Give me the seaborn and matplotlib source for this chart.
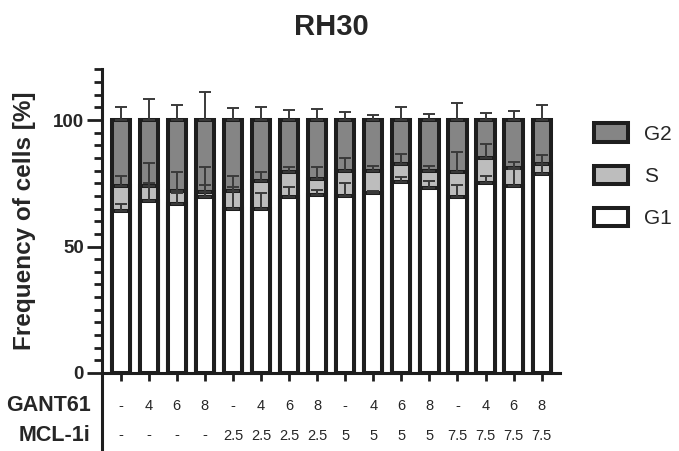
import numpy as np
import pandas as pd
import seaborn as sns
import matplotlib.pyplot as plt
import matplotlib.transforms as mtransforms
from matplotlib.patches import Patch
from matplotlib.ticker import MultipleLocator

# Treatment table under the bars
gant61 = ["-", "4", "6", "8", "-", "4", "6", "8", "-", "4", "6", "8", "-", "4", "6", "8"]
mcl1i = ["-", "-", "-", "-", "2.5", "2.5", "2.5", "2.5", "5", "5", "5", "5", "7.5", "7.5", "7.5", "7.5"]

# Cell cycle phase means (%)
g1 = [64, 68, 67, 69.5, 65, 65, 69.5, 70.5, 70, 71, 75.5, 73, 69.5, 75, 74, 78.5]
s_phase = [10, 6, 5, 2, 7, 11, 10, 6, 10, 9, 7, 7, 10, 10, 7, 4]
g2 = [26, 26, 28, 28.5, 28, 24, 20.5, 23.5, 20, 20, 17.5, 20, 20.5, 15, 19, 17.5]

# upper SD per phase
g1_sd = [3, 7, 4, 5, 8.5, 6, 4, 2, 5, 1, 2, 3, 5, 3, 6.5, 4]
s_sd = [4, 9, 7.5, 10, 6, 3.3, 2, 5, 5, 2, 4, 2, 8, 5.5, 2.5, 3.5]
g2_sd = [5, 8.5, 6, 11, 4.6, 5, 4, 4.4, 3.3, 2, 5, 2.3, 6.6, 2.6, 3.6, 6]

sns.set_style("ticks")
plt.rcParams['font.family'] = ['Liberation Sans', 'DejaVu Sans']

df = pd.DataFrame({
    "cond": [f"{a}/{b}" for a, b in zip(gant61, mcl1i)],
    "G1": g1, "S": s_phase, "G2": g2,
})
df["S_top"] = df["G1"] + df["S"]
df["G2_top"] = df["S_top"] + df["G2"]

edge = "#1e1e1e"
colors = {"G2": "#858585", "S": "#bdbdbd", "G1": "white"}

fig, ax = plt.subplots(figsize=(6.79, 4.51), dpi=100)
fig.subplots_adjust(left=0.150, right=0.825, bottom=0.173, top=0.846)

# stacked bars drawn as overlapping cumulative bars
for col, phase in [("G2_top", "G2"), ("S_top", "S"), ("G1", "G1")]:
    sns.barplot(data=df, x="cond", y=col, color=colors[phase], edgecolor=edge,
                linewidth=2.9, width=0.65, errorbar=None, saturation=1, ax=ax)

# one-sided error bars
x = np.arange(len(df))
for top, sd in [(df["G1"], g1_sd), (df["S_top"], s_sd), (df["G2_top"], g2_sd)]:
    ax.errorbar(x, top, yerr=[np.zeros(len(sd)), sd], fmt="none", ecolor="#3a3a3a",
                elinewidth=1.4, capsize=4, capthick=1.4, zorder=5)

ax.set_xlim(-0.67, 15.66)
ax.set_ylim(0, 120)
ax.yaxis.set_major_locator(MultipleLocator(50))
ax.yaxis.set_minor_locator(MultipleLocator(5))
ax.set_xticks(x)
ax.set_xticklabels([])
ax.set_xlabel("")
ax.tick_params(axis="y", which="major", length=11, width=2, labelsize=13.5, pad=2, color=edge)
ax.tick_params(axis="y", which="minor", length=5.5, width=2, color=edge)
ax.tick_params(axis="x", length=6, width=2, color=edge)
for t in ax.get_yticklabels():
    t.set_fontweight("bold")
sns.despine(ax=ax)
for sp in ["left", "bottom"]:
    ax.spines[sp].set_linewidth(2.2)
    ax.spines[sp].set_color(edge)

ax.set_ylabel("Frequency of cells [%]", fontsize=17.5, fontweight="bold", labelpad=12)
ax.set_title("RH30", fontsize=21, fontweight="bold", pad=25)

# treatment table
trans = mtransforms.blended_transform_factory(ax.transData, ax.transAxes)
for i, (a, b) in enumerate(zip(gant61, mcl1i)):
    ax.text(i, -0.108, a, transform=trans, ha="center", va="center", fontsize=10.5)
    ax.text(i, -0.206, b, transform=trans, ha="center", va="center", fontsize=10.5)
ax.text(-0.024, -0.108, "GANT61", transform=ax.transAxes, ha="right", va="center",
        fontsize=15.5, fontweight="bold")
ax.text(-0.024, -0.206, "MCL-1i", transform=ax.transAxes, ha="right", va="center",
        fontsize=15.5, fontweight="bold")
ax.plot([0, 0], [0, -0.26], transform=ax.transAxes, color=edge, lw=2.2, clip_on=False)

handles = [Patch(facecolor=colors[p], edgecolor=edge, linewidth=2.9, label=p) for p in ["G2", "S", "G1"]]
ax.legend(handles=handles, loc="upper left", bbox_to_anchor=(1.074, 0.823), frameon=False,
          fontsize=15, handlelength=1.65, handleheight=1.0, labelspacing=1.05,
          handletextpad=0.75, borderpad=0, borderaxespad=0)

fig.savefig("out.png", dpi=100)
